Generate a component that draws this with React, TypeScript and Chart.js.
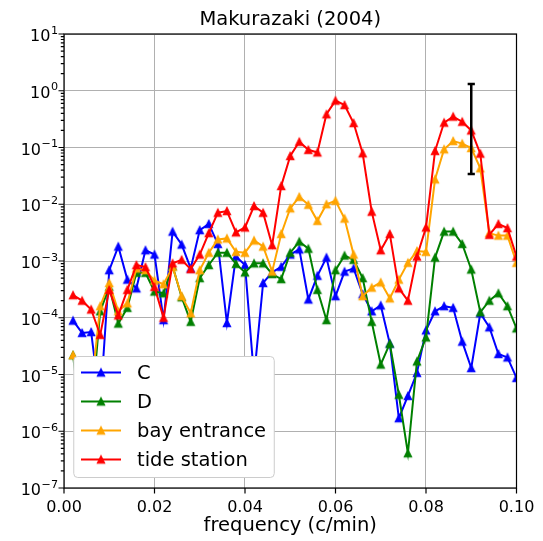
import { useEffect, useRef } from 'react';
import { Chart, registerables } from 'chart.js';

Chart.register(...registerables);

// Frequency bins (c/min)
const FREQUENCY = [
  0.002, 0.004, 0.006, 0.008, 0.010, 0.012, 0.014, 0.016, 0.018, 0.020,
  0.022, 0.024, 0.026, 0.028, 0.030, 0.032, 0.034, 0.036, 0.038, 0.040,
  0.042, 0.044, 0.046, 0.048, 0.050, 0.052, 0.054, 0.056, 0.058, 0.060,
  0.062, 0.064, 0.066, 0.068, 0.070, 0.072, 0.074, 0.076, 0.078, 0.080,
  0.082, 0.084, 0.086, 0.088, 0.090, 0.092, 0.094, 0.096, 0.098, 0.100,
];

// Spectral density at each station
const STATION_C = [
  8.9e-5, 5.4e-5, 5.6e-5, 3e-6, 6.9e-4, 1.8e-3, 4.7e-4, 3.3e-4, 1.55e-3, 1.3e-3,
  9.1e-5, 3.3e-3, 1.95e-3, 7.4e-4, 3.5e-3, 4.5e-3, 2.0e-3, 8.1e-5, 1.2e-3, 8.5e-4,
  9e-6, 4.1e-4, 6.3e-4, 7.9e-4, 1.3e-3, 1.6e-3, 2.1e-4, 5.5e-4, 1.15e-3, 2.4e-4,
  6.5e-4, 7.4e-4, 2.6e-4, 1.3e-4, 1.65e-4, 3.5e-5, 1.7e-6, 4.2e-6, 1.07e-5, 6.0e-5,
  1.3e-4, 1.6e-4, 1.5e-4, 3.8e-5, 1.3e-5, 1.2e-4, 6.8e-5, 2.3e-5, 2.0e-5, 8.7e-6,
];

const STATION_D = [
  2.2e-5, 1e-6, 2e-6, 1.3e-4, 3.5e-4, 7.9e-5, 1.5e-4, 6.2e-4, 6.2e-4, 2.9e-4,
  2.7e-4, 8.1e-4, 2.3e-4, 8.5e-5, 5.0e-4, 8.5e-4, 1.4e-3, 1.4e-3, 8.9e-4, 6.3e-4,
  9.1e-4, 9.1e-4, 5.9e-4, 4.8e-4, 1.4e-3, 2.2e-3, 1.65e-3, 3.1e-4, 9.1e-5, 6.9e-4,
  1.25e-3, 1.05e-3, 5.0e-4, 8.5e-5, 1.5e-5, 3.5e-5, 4.4e-6, 4.1e-7, 1.7e-5, 4.5e-5,
  1.15e-3, 3.3e-3, 3.3e-3, 2.0e-3, 7.1e-4, 1.25e-4, 2.0e-4, 2.7e-4, 1.6e-4, 6.5e-5,
];

const BAY_ENTRANCE = [
  2.2e-5, 6e-6, 5e-6, 1.6e-4, 4.1e-4, 1.3e-4, 1.8e-4, 7.4e-4, 6.9e-4, 4.5e-4,
  3.9e-4, 7.9e-4, 2.4e-4, 1.2e-4, 6.9e-4, 1.4e-3, 2.4e-3, 2.5e-3, 1.45e-3, 1.4e-3,
  2.3e-3, 1.8e-3, 6.5e-4, 3.0e-3, 8.5e-3, 1.35e-2, 9.8e-3, 5.1e-3, 1.0e-2, 1.15e-2,
  5.6e-3, 1.3e-3, 2.4e-4, 3.4e-4, 4.2e-4, 2.2e-4, 4.7e-4, 9.3e-4, 1.5e-3, 1.45e-3,
  2.75e-2, 9.3e-2, 0.13, 0.117, 0.098, 4.3e-2, 3.1e-3, 2.8e-3, 2.8e-3, 9.3e-4,
];

const TIDE_STATION = [
  2.5e-4, 2.0e-4, 1.4e-4, 5.0e-5, 3.1e-4, 1.1e-4, 3.1e-4, 8.5e-4, 7.8e-4, 3.5e-4,
  1.0e-4, 9.1e-4, 1.05e-3, 7.2e-4, 1.3e-3, 3.1e-3, 7.1e-3, 7.6e-3, 3.2e-3, 3.9e-3,
  9.3e-3, 7.1e-3, 1.9e-3, 2.1e-2, 7.1e-2, 0.126, 0.091, 0.082, 0.385, 0.67,
  0.56, 0.27, 0.079, 7.4e-3, 1.55e-3, 3.0e-3, 3.3e-4, 2.0e-4, 1.2e-3, 3.9e-3,
  0.087, 0.275, 0.35, 0.285, 0.20, 0.078, 2.9e-3, 4.5e-3, 3.8e-3, 1.2e-3,
];

// Confidence interval bar
const ERRBAR_FREQ = 0.09;
const ERRBAR_LOW = 0.034;
const ERRBAR_HIGH = 1.32;

// Axis ticks
const X_TICKS = [0, 0.02, 0.04, 0.06, 0.08, 0.1];
const X_TICK_LABELS = ['0.00', '0.02', '0.04', '0.06', '0.08', '0.10'];
const Y_EXPONENTS = [-7, -6, -5, -4, -3, -2, -1, 0, 1];

const TITLE = 'Makurazaki (2004)';
const X_LABEL = 'frequency (c/min)';

const SERIES = [
  { label: 'C', values: STATION_C, color: '#0000ff' },
  { label: 'D', values: STATION_D, color: '#008000' },
  { label: 'bay entrance', values: BAY_ENTRANCE, color: '#ffa500' },
  { label: 'tide station', values: TIDE_STATION, color: '#ff0000' },
];

const FONT = '"DejaVu Sans", "Liberation Sans", sans-serif';

function triangleMarker(color: string): HTMLCanvasElement {
  const s = 12;
  const c = document.createElement('canvas');
  c.width = s;
  c.height = s;
  const g = c.getContext('2d')!;
  const m = s / 2;
  const h = 3.7;
  g.beginPath();
  g.moveTo(m, m - h);
  g.lineTo(m - h, m + h);
  g.lineTo(m + h, m + h);
  g.closePath();
  g.fillStyle = color;
  g.fill();
  g.lineWidth = 1.1;
  g.lineJoin = 'miter';
  g.strokeStyle = color;
  g.stroke();
  return c;
}

export default function App() {
  const canvasRef = useRef<HTMLCanvasElement | null>(null);

  useEffect(() => {
    const canvas = canvasRef.current;
    if (!canvas) return;

    const markers = SERIES.map((s) => triangleMarker(s.color));

    const decorations = {
      id: 'decorations',
      afterDatasetsDraw(chart: any) {
        const { ctx, scales } = chart;
        const x = scales.x;
        const y = scales.y;
        // error bar
        const ex = x.getPixelForValue(ERRBAR_FREQ);
        const yTop = y.getPixelForValue(ERRBAR_HIGH);
        const yBot = y.getPixelForValue(ERRBAR_LOW);
        ctx.save();
        ctx.strokeStyle = '#000';
        ctx.lineWidth = 2.5;
        ctx.beginPath();
        ctx.moveTo(ex, yTop);
        ctx.lineTo(ex, yBot);
        ctx.moveTo(ex - 3.6, yTop);
        ctx.lineTo(ex + 3.6, yTop);
        ctx.moveTo(ex - 3.6, yBot);
        ctx.lineTo(ex + 3.6, yBot);
        ctx.stroke();
        ctx.restore();
      },
      afterDraw(chart: any) {
        const { ctx, chartArea: a, scales } = chart;
        const x = scales.x;
        const y = scales.y;
        ctx.save();

        // legend box
        const lx = 73.75, ly = 356.5, lw = 200.5, lh = 121;
        const r = 4;
        ctx.beginPath();
        ctx.moveTo(lx + r, ly);
        ctx.lineTo(lx + lw - r, ly);
        ctx.arcTo(lx + lw, ly, lx + lw, ly + r, r);
        ctx.lineTo(lx + lw, ly + lh - r);
        ctx.arcTo(lx + lw, ly + lh, lx + lw - r, ly + lh, r);
        ctx.lineTo(lx + r, ly + lh);
        ctx.arcTo(lx, ly + lh, lx, ly + lh - r, r);
        ctx.lineTo(lx, ly + r);
        ctx.arcTo(lx, ly, lx + r, ly, r);
        ctx.closePath();
        ctx.fillStyle = '#ffffff';
        ctx.fill();
        ctx.strokeStyle = '#cccccc';
        ctx.lineWidth = 1;
        ctx.stroke();

        ctx.font = `19.5px ${FONT}`;
        ctx.textBaseline = 'middle';
        ctx.textAlign = 'left';
        SERIES.forEach((s, i) => {
          const rowY = 372.5 + i * 29;
          ctx.strokeStyle = s.color;
          ctx.lineWidth = 2;
          ctx.beginPath();
          ctx.moveTo(81, rowY);
          ctx.lineTo(121, rowY);
          ctx.stroke();
          const m = markers[i];
          ctx.drawImage(m, 101 - m.width / 2, rowY - m.height / 2);
          ctx.fillStyle = '#000';
          ctx.fillText(s.label, 137, rowY + 1);
        });

        // frame
        ctx.strokeStyle = '#000';
        ctx.lineWidth = 1.2;
        ctx.strokeRect(a.left, a.top, a.right - a.left, a.bottom - a.top);

        // x ticks
        ctx.lineWidth = 1.2;
        ctx.beginPath();
        X_TICKS.forEach((v) => {
          const px = x.getPixelForValue(v);
          ctx.moveTo(px, a.bottom);
          ctx.lineTo(px, a.bottom + 5.5);
        });
        // y major + minor ticks
        Y_EXPONENTS.forEach((e) => {
          const py = y.getPixelForValue(Math.pow(10, e));
          ctx.moveTo(a.left, py);
          ctx.lineTo(a.left - 5.5, py);
          if (e < 1) {
            for (let k = 2; k <= 9; k++) {
              const pm = y.getPixelForValue(k * Math.pow(10, e));
              ctx.moveTo(a.left, pm);
              ctx.lineTo(a.left - 3.2, pm);
            }
          }
        });
        ctx.stroke();

        // x tick labels
        ctx.fillStyle = '#000';
        ctx.font = `16px ${FONT}`;
        ctx.textAlign = 'center';
        ctx.textBaseline = 'alphabetic';
        X_TICKS.forEach((v, i) => {
          ctx.fillText(X_TICK_LABELS[i], x.getPixelForValue(v), 512);
        });

        // y tick labels, 10 with superscript exponent
        Y_EXPONENTS.forEach((e) => {
          const py = y.getPixelForValue(Math.pow(10, e));
          const sup = e < 0 ? '\u2212' + String(-e) : String(e);
          ctx.font = `11.2px ${FONT}`;
          const supW = ctx.measureText(sup).width;
          ctx.font = `16px ${FONT}`;
          const baseW = ctx.measureText('10').width;
          const right = 58;
          ctx.textAlign = 'left';
          ctx.fillText('10', right - supW - baseW - 0.5, py + 7);
          ctx.font = `11.2px ${FONT}`;
          ctx.fillText(sup, right - supW, py - 0.5);
        });

        // axis label and title
        ctx.font = `19.5px ${FONT}`;
        ctx.textAlign = 'center';
        const cx = (a.left + a.right) / 2;
        ctx.fillText(X_LABEL, cx, 531);
        ctx.fillText(TITLE, cx, 25);

        ctx.restore();
      },
    };

    const chart = new Chart(canvas, {
      type: 'line',
      data: {
        datasets: SERIES.map((s, i) => ({
          label: s.label,
          data: FREQUENCY.map((f, j) => ({ x: f, y: s.values[j] })),
          borderColor: s.color,
          backgroundColor: s.color,
          borderWidth: 2,
          pointStyle: markers[i],
          pointRadius: 4,
          pointHoverRadius: 4,
          tension: 0,
          order: SERIES.length - i,
        })),
      },
      options: {
        animation: false,
        responsive: false,
        devicePixelRatio: 1,
        events: [],
        layout: { autoPadding: false, padding: { top: 34, right: 26.5, left: 0, bottom: 0 } },
        scales: {
          x: {
            type: 'linear',
            min: 0,
            max: 0.1,
            ticks: { display: false, stepSize: 0.02 },
            afterBuildTicks: (scale: any) => {
              scale.ticks = X_TICKS.map((v) => ({ value: v }));
            },
            grid: { color: '#b0b0b0', lineWidth: 1, drawTicks: false },
            border: { display: false },
            afterFit: (scale: any) => {
              scale.height = 53;
            },
          },
          y: {
            type: 'logarithmic',
            min: 1e-7,
            max: 10,
            ticks: { display: false },
            afterBuildTicks: (scale: any) => {
              scale.ticks = Y_EXPONENTS.map((e) => ({ value: Math.pow(10, e) }));
            },
            grid: { color: '#b0b0b0', lineWidth: 1, drawTicks: false },
            border: { display: false },
            afterFit: (scale: any) => {
              scale.width = 64;
            },
          },
        },
        plugins: {
          legend: { display: false },
          title: { display: false },
          tooltip: { enabled: false },
        },
      },
      plugins: [decorations],
    } as any);

    return () => chart.destroy();
  }, []);

  return (
    <div style={{ position: 'absolute', left: 0, top: 0, width: 543, height: 541, background: '#fff' }}>
      <canvas ref={canvasRef} width={543} height={541} style={{ display: 'block' }} />
    </div>
  );
}
